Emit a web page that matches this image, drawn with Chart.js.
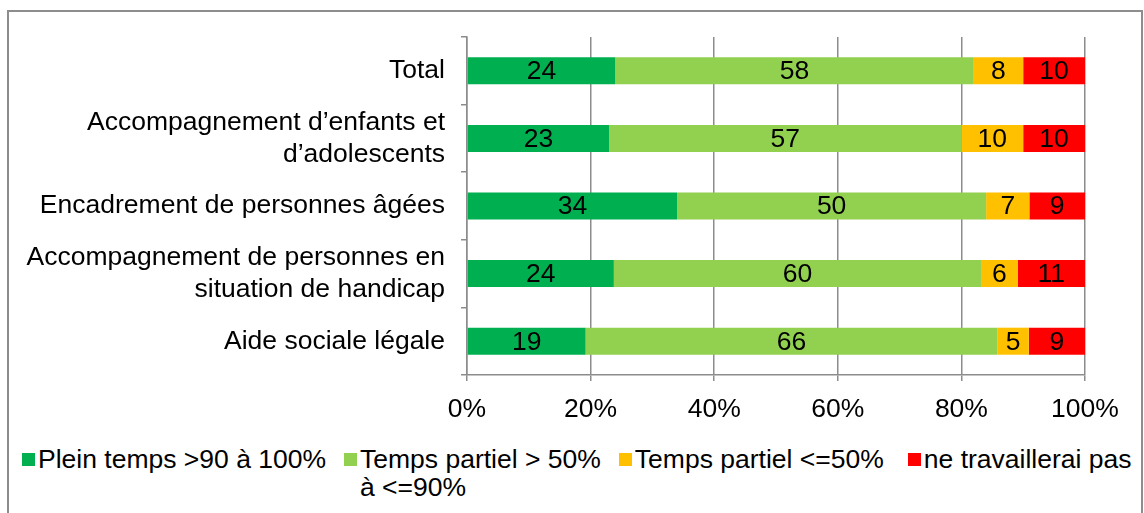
<!DOCTYPE html>
<html>
<head>
<meta charset="utf-8">
<script src="https://cdn.jsdelivr.net/npm/chart.js@4.4.1/dist/chart.umd.min.js"></script>
<style>
  body { margin: 0; background: #fff; font-family: "Liberation Sans", Arial, sans-serif; }
  #wrap { position: relative; width: 1144px; height: 513px; overflow: hidden; }
  #frame { position: absolute; left: 7px; top: 10px; width: 1132px; height: 520px; border: 2px solid #8d8d8d; }
  #chartBox { position: absolute; left: 0; top: 0; width: 1144px; height: 440px; }
  #legend { position: absolute; left: 22px; top: 445px; display: flex; gap: 18px; font-size: 26.5px; line-height: 28px; color: #000; }
  .legend-item { display: flex; align-items: flex-start; }
  .legend-item:last-child { margin-left: 6px; }
  .legend-box { width: 13px; height: 13px; margin-top: 8px; margin-right: 3px; flex: none; }
  .legend-text { white-space: pre-line; }
</style>
</head>
<body>
<div id="wrap">
  <div id="frame"></div>
  <div id="chartBox"><canvas id="chart" width="1144" height="440"></canvas></div>
  <div id="legend"></div>
</div>
<script>
// Categories (top to bottom)
const categories = [
  'Total',
  ['Accompagnement d’enfants et', 'd’adolescents'],
  'Encadrement de personnes âgées',
  ['Accompagnement de personnes en', 'situation de handicap'],
  'Aide sociale légale'
];

// Values (percent)
const pleinTemps = [24, 23, 34, 24, 19];
const partielPlus50 = [58, 57, 50, 60, 66];
const partielMoins50 = [8, 10, 7, 6, 5];
const neTravaillePas = [10, 10, 9, 11, 9];

const seriesLabels = ['Plein temps >90 à 100%', 'Temps partiel > 50%\nà <=90%', 'Temps partiel <=50%', 'ne travaillerai pas'];
const seriesColors = ['#00B050', '#92D050', '#FFC000', '#FF0000'];
const xTicks = [0, 20, 40, 60, 80, 100];

const series = [pleinTemps, partielPlus50, partielMoins50, neTravaillePas];
const AXIS_GREY = '#8c8c8c';
const FONT = { family: '"Liberation Sans", Arial, sans-serif', size: 26.5 };

// 100% stacked: each row is scaled to its own total
const rowTotals = categories.map((c, i) => series.reduce((s, arr) => s + arr[i], 0));

const datasets = series.map((arr, k) => ({
  label: seriesLabels[k].replace('\n', ' '),
  data: arr.map((v, i) => v / rowTotals[i] * 100),
  raw: arr,
  backgroundColor: seriesColors[k],
  borderWidth: 0,
  barPercentage: 0.4,
  categoryPercentage: 1
}));

// draw the value in the middle of each segment
const barLabels = {
  id: 'barLabels',
  afterDatasetsDraw(chart) {
    const ctx = chart.ctx;
    ctx.save();
    ctx.font = FONT.size + 'px ' + FONT.family;
    ctx.fillStyle = '#000';
    ctx.textAlign = 'center';
    ctx.textBaseline = 'middle';
    chart.data.datasets.forEach((ds, k) => {
      chart.getDatasetMeta(k).data.forEach((bar, i) => {
        const p = bar.getCenterPoint();
        ctx.fillText(String(ds.raw[i]), p.x, p.y + 1);
      });
    });
    ctx.restore();
  }
};

new Chart(document.getElementById('chart'), {
  type: 'bar',
  data: { labels: categories, datasets: datasets },
  plugins: [barLabels],
  options: {
    indexAxis: 'y',
    responsive: false,
    animation: false,
    layout: { padding: { left: 0, right: 59, top: 37, bottom: 15 } },
    plugins: {
      legend: { display: false },
      tooltip: { enabled: false }
    },
    scales: {
      x: {
        stacked: true,
        min: 0,
        max: 100,
        afterBuildTicks: (scale) => { scale.ticks = xTicks.map(v => ({ value: v })); },
        afterFit: (scale) => { scale.height = 50; },
        ticks: {
          color: '#000',
          font: FONT,
          padding: 13,
          maxRotation: 0,
          callback: (v) => v + '%'
        },
        grid: { color: AXIS_GREY, lineWidth: 1.5, tickLength: 6 },
        border: { color: AXIS_GREY, width: 1.5 }
      },
      y: {
        stacked: true,
        afterFit: (scale) => { scale.width = 467; },
        ticks: { color: '#000', font: FONT, padding: 16 },
        grid: { drawOnChartArea: false, color: AXIS_GREY, lineWidth: 1.5, tickLength: 6, offset: true },
        border: { color: AXIS_GREY, width: 1.5 }
      }
    }
  }
});

// legend built from the series
const legend = document.getElementById('legend');
seriesLabels.forEach((lbl, k) => {
  const item = document.createElement('div');
  item.className = 'legend-item';
  item.innerHTML = '<span class="legend-box" style="background:' + seriesColors[k] + '"></span>' +
    '<span class="legend-text"></span>';
  item.querySelector('.legend-text').textContent = lbl;
  legend.appendChild(item);
});
</script>
</body>
</html>
